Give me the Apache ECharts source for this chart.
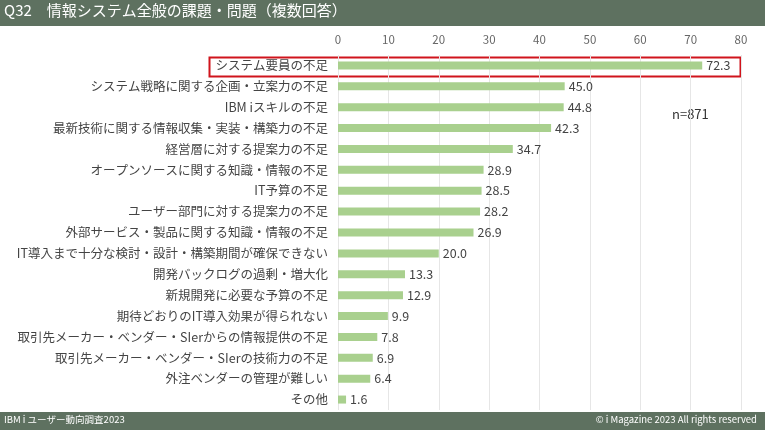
<!DOCTYPE html>
<html><head><meta charset="utf-8">
<script src="https://cdn.jsdelivr.net/npm/echarts@6/dist/echarts.min.js"></script>
<style>html,body{margin:0;padding:0;background:#fff}#c{width:765px;height:430px}</style>
</head><body><div id="c"></div>
<script>
const categories=["システム要員の不足","システム戦略に関する企画・立案力の不足","IBM iスキルの不足","最新技術に関する情報収集・実装・構築力の不足","経営層に対する提案力の不足","オープンソースに関する知識・情報の不足","IT予算の不足","ユーザー部門に対する提案力の不足","外部サービス・製品に関する知識・情報の不足","IT導入まで十分な検討・設計・構築期間が確保できない","開発バックログの過剰・増大化","新規開発に必要な予算の不足","期待どおりのIT導入効果が得られない","取引先メーカー・ベンダー・SIerからの情報提供の不足","取引先メーカー・ベンダー・SIerの技術力の不足","外注ベンダーの管理が難しい","その他"];
const values=[72.3,45.0,44.8,42.3,34.7,28.9,28.5,28.2,26.9,20.0,13.3,12.9,9.9,7.8,6.9,6.4,1.6];
const F='"Noto Sans CJK JP"';
const ch=echarts.init(document.getElementById('c'));
ch.setOption({
animation:false,
textStyle:{fontFamily:F},
grid:{left:338,right:24,top:55,bottom:20},
xAxis:{type:'value',position:'top',min:0,max:80,interval:10,
 axisLabel:{color:'#666',fontSize:11.5,margin:10},axisLine:{show:false},axisTick:{show:false},
 splitLine:{lineStyle:{color:'#e6e6e6'}}},
yAxis:{type:'category',inverse:true,data:categories,
 axisLabel:{color:'#444',fontSize:12.5,margin:10},axisLine:{show:false},axisTick:{show:false}},
series:[{type:'bar',data:values,barWidth:8,itemStyle:{color:'#a9d08e'},
 label:{show:true,position:'right',color:'#444',fontSize:12.5,formatter:p=>p.value.toFixed(1),distance:4}}],
graphic:[
 {type:'rect',left:0,top:0,shape:{width:765,height:26},style:{fill:'#5e7160'}},
 {type:'text',left:4,top:3,style:{text:'Q32　情報システム全般の課題・問題（複数回答）',fill:'#fff',font:'15px '+F}},
 {type:'rect',left:0,top:412,shape:{width:765,height:18},style:{fill:'#5e7160'}},
 {type:'text',left:4,top:415,style:{text:'IBM i ユーザー動向調査2023',fill:'#fff',font:'9.5px '+F}},
 {type:'text',right:8,top:415,style:{text:'© i Magazine 2023 All rights reserved',fill:'#fff',font:'9.5px '+F}},
 {type:'text',left:672,top:108,style:{text:'n=871',fill:'#333',font:'13px '+F}},
 {type:'rect',left:207,top:55,shape:{width:531,height:19},style:{fill:'none',stroke:'#d0141c',lineWidth:2}}
]});
</script></body></html>
